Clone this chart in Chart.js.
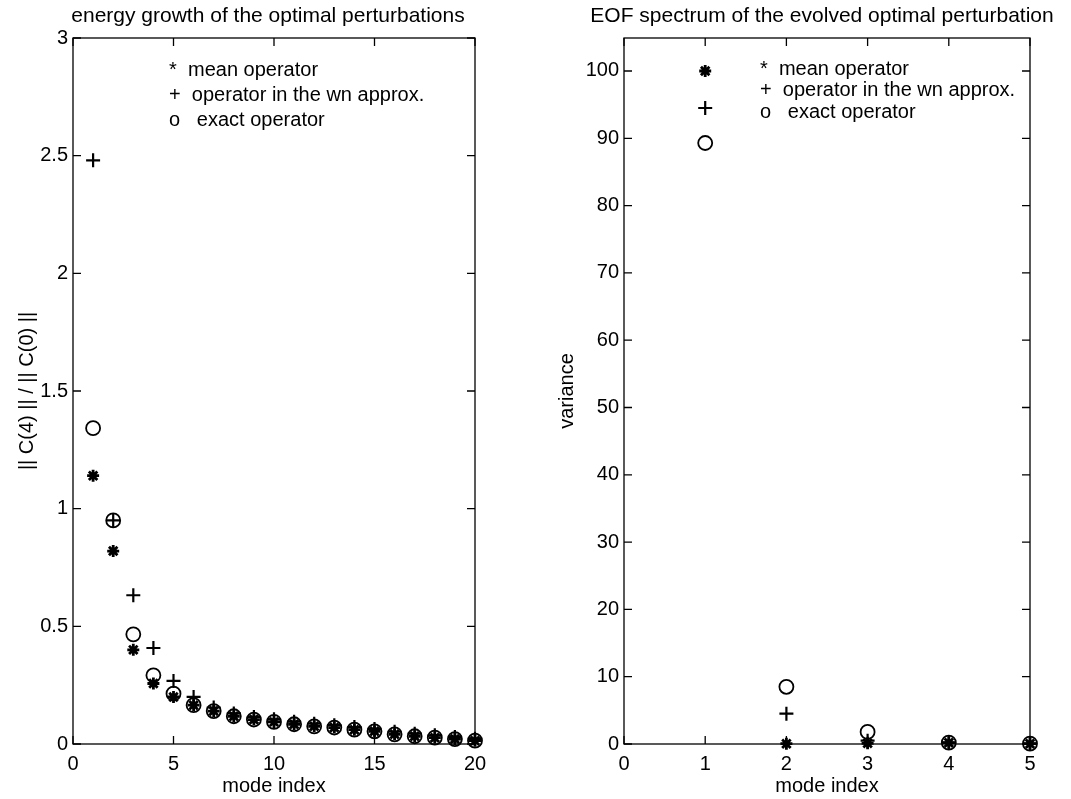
<!DOCTYPE html>
<html><head><meta charset="utf-8">
<script src="https://cdn.jsdelivr.net/npm/chart.js@4.4.0/dist/chart.umd.min.js"></script>
<style>
html,body{margin:0;padding:0;background:#fff;width:1071px;height:799px;overflow:hidden}
.c{position:absolute;top:0;height:799px}
</style></head><body>
<div class="c" style="left:0;width:540px"><canvas id="c1"></canvas></div>
<div class="c" style="left:540px;width:531px"><canvas id="c2"></canvas></div>
<script>
// ---- data: energy growth (left panel) ----
const growthModes = [1,2,3,4,5,6,7,8,9,10,11,12,13,14,15,16,17,18,19,20];
const growthMean  = [1.14,0.82,0.40,0.257,0.20,0.165,0.14,0.118,0.104,0.094,0.084,0.075,0.07,0.061,0.054,0.041,0.033,0.027,0.021,0.014];
const growthWn    = [2.48,0.95,0.632,0.408,0.268,0.20,0.155,0.13,0.115,0.105,0.095,0.086,0.08,0.072,0.064,0.052,0.044,0.037,0.03,0.022];
const growthExact = [1.342,0.95,0.466,0.292,0.214,0.165,0.14,0.118,0.104,0.094,0.084,0.075,0.07,0.061,0.054,0.041,0.033,0.027,0.021,0.014];
const growthXTicks = [0,5,10,15,20];
const growthYTicks = [0,0.5,1,1.5,2,2.5,3];

// ---- data: EOF spectrum (right panel) ----
const eofModes = [1,2,3,4,5];
const eofMean  = [100,0.05,0.1,0.2,0.05];
const eofWn    = [94.5,4.5,0.5,0.2,0.05];
const eofExact = [89.3,8.5,1.8,0.2,0.05];
const eofXTicks = [0,1,2,3,4,5];
const eofYTicks = [0,10,20,30,40,50,60,70,80,90,100];

// ---- text ----
const panelTitles = ['energy growth of the optimal perturbations','EOF spectrum of the evolved optimal perturbation'];
const xAxisTitles = ['mode index','mode index'];
const yAxisTitles = ['|| C(4) || / || C(0) ||','variance'];
const legendLines = ['*  mean operator','+  operator in the wn approx.','o   exact operator'];
const growthLegendX = 4.78;
const growthLegendY = [2.86,2.755,2.65];
const eofLegendX = 1.675;
const eofLegendY = [100.25,97.1,93.85];

const FONT = '"Liberation Sans", Arial, Helvetica, sans-serif';
Chart.defaults.font.family = FONT;
Chart.defaults.color = '#000';

const framePlugin = {
  id: 'frame',
  afterDraw(chart, args, o) {
    const {ctx, chartArea: a, scales: {x, y}} = chart;
    ctx.save();
    ctx.strokeStyle = '#000';
    ctx.lineWidth = 1.3;
    ctx.strokeRect(a.left, a.top, a.right - a.left, a.bottom - a.top);
    const L = 8;
    ctx.beginPath();
    x.ticks.forEach(t => {
      const p = x.getPixelForValue(t.value);
      ctx.moveTo(p, a.bottom); ctx.lineTo(p, a.bottom - L);
      ctx.moveTo(p, a.top); ctx.lineTo(p, a.top + L);
    });
    y.ticks.forEach(t => {
      const p = y.getPixelForValue(t.value);
      ctx.moveTo(a.left, p); ctx.lineTo(a.left + L, p);
      ctx.moveTo(a.right, p); ctx.lineTo(a.right - L, p);
    });
    ctx.stroke();
    ctx.fillStyle = '#000';
    // title
    ctx.font = '21px ' + FONT;
    ctx.textAlign = 'center';
    ctx.textBaseline = 'alphabetic';
    ctx.fillText(o.title, (a.left + a.right) / 2 + o.titleShift, 22);
    // x title
    ctx.font = '20px ' + FONT;
    ctx.textBaseline = 'middle';
    ctx.fillText(o.xTitle, (a.left + a.right) / 2, 786);
    // y title
    ctx.save();
    ctx.translate(o.yTitleX, (a.top + a.bottom) / 2);
    ctx.rotate(-Math.PI / 2);
    ctx.fillText(o.yTitle, 0, 0);
    ctx.restore();
    // legend text
    ctx.textAlign = 'left';
    ctx.font = '20px ' + FONT;
    const lx = x.getPixelForValue(o.legendX);
    o.legendLines.forEach((s, i) => {
      ctx.fillText(s, lx, y.getPixelForValue(o.legendY[i]));
    });
    ctx.restore();
  }
};

function makeChart(id, cfg) {
  const pts = arr => cfg.x.map((v, i) => ({x: v, y: arr[i]}));
  return new Chart(document.getElementById(id), {
    type: 'scatter',
    data: {datasets: [
      {data: pts(cfg.exact), pointStyle: 'circle', pointRadius: 7, borderColor: '#000', backgroundColor: 'rgba(0,0,0,0)', borderWidth: 1.8, clip: false},
      {data: pts(cfg.wn), pointStyle: 'cross', pointRadius: 7, borderColor: '#000', backgroundColor: '#000', borderWidth: 2.2, clip: false},
      {data: pts(cfg.mean), pointStyle: 'star', pointRadius: 6, borderColor: '#000', backgroundColor: '#000', borderWidth: 2.8, clip: false}
    ]},
    options: {
      responsive: true, maintainAspectRatio: false, animation: false,
      events: [],
      layout: {padding: {left: 0, right: cfg.padRight, top: 38, bottom: 0}},
      plugins: {
        legend: {display: false}, tooltip: {enabled: false},
        frame: cfg.frame
      },
      scales: {
        x: {
          type: 'linear', min: cfg.xMin, max: cfg.xMax,
          grid: {display: false, drawTicks: false}, border: {display: false},
          ticks: {padding: 8, autoSkip: false, maxRotation: 0, font: {size: 20}, color: '#000', callback: v => String(v)},
          afterBuildTicks: s => { s.ticks = cfg.xTicks.map(v => ({value: v})); },
          afterFit: s => { s.height = 55; }
        },
        y: {
          type: 'linear', min: cfg.yMin, max: cfg.yMax,
          grid: {display: false, drawTicks: false}, border: {display: false},
          ticks: {padding: 5, autoSkip: false, font: {size: 20}, color: '#000', callback: v => String(v)},
          afterBuildTicks: s => { s.ticks = cfg.yTicks.map(v => ({value: v})); },
          afterFit: s => { s.width = cfg.yWidth; }
        }
      }
    },
    plugins: [framePlugin]
  });
}

makeChart('c1', {
  x: growthModes, mean: growthMean, wn: growthWn, exact: growthExact,
  xMin: 0, xMax: 20, yMin: 0, yMax: 3, xTicks: growthXTicks, yTicks: growthYTicks,
  yWidth: 73, padRight: 65,
  frame: {title: panelTitles[0], titleShift: -6, xTitle: xAxisTitles[0], yTitle: yAxisTitles[0], yTitleX: 27,
          legendLines: legendLines, legendX: growthLegendX, legendY: growthLegendY}
});
makeChart('c2', {
  x: eofModes, mean: eofMean, wn: eofWn, exact: eofExact,
  xMin: 0, xMax: 5, yMin: 0, yMax: 104.9, xTicks: eofXTicks, yTicks: eofYTicks,
  yWidth: 84, padRight: 41,
  frame: {title: panelTitles[1], titleShift: -5, xTitle: xAxisTitles[1], yTitle: yAxisTitles[1], yTitleX: 27,
          legendLines: legendLines, legendX: eofLegendX, legendY: eofLegendY}
});
</script>
</body></html>
